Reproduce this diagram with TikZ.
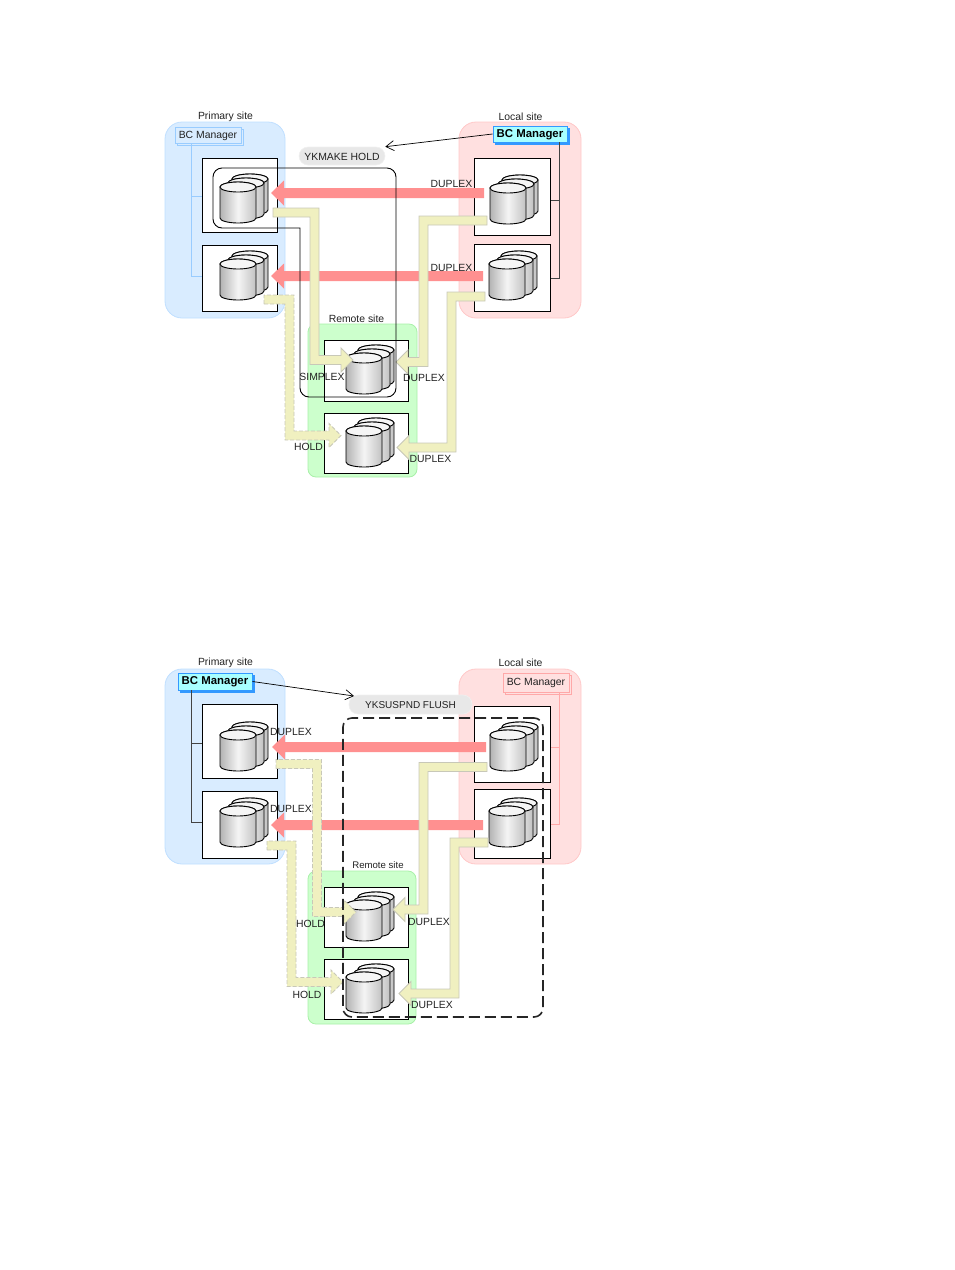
\documentclass[tikz,border=0pt]{standalone}
\usepackage{fontspec}
\setmainfont{Liberation Sans}
\usetikzlibrary{arrows.meta,calc}
\definecolor{siteblue}{HTML}{D9ECFF}
\definecolor{siteblueline}{HTML}{BFDFFF}
\definecolor{sitered}{HTML}{FFE0E0}
\definecolor{siteredline}{HTML}{FFC8C8}
\definecolor{sitegreen}{HTML}{CCFFCC}
\definecolor{sitegreenline}{HTML}{A8F0A8}
\definecolor{flowred}{HTML}{FF9090}
\definecolor{pipefill}{HTML}{F0F0C0}
\definecolor{pipeline}{HTML}{C8C8B8}
\definecolor{mgrcyan}{HTML}{A8FFFF}
\definecolor{mgrblue}{HTML}{3399FF}
\definecolor{linkblue}{HTML}{99CCFF}
\definecolor{linkpink}{HTML}{FFA8A8}
\definecolor{inkgray}{HTML}{222222}
\tikzset{
  sitebase/.style={line width=.8pt,rounded corners=17pt},
  primarysite/.style={sitebase,draw=siteblueline,fill=siteblue},
  localsite/.style={sitebase,draw=siteredline,fill=sitered},
  remotesite/.style={line width=.8pt,rounded corners=8pt,draw=sitegreenline,fill=sitegreen},
  storagebox/.style={draw=black,fill=white,line width=1pt},
  lbl/.style={font=\fontsize{10.4}{12}\selectfont,text=inkgray,inner sep=0pt},
  sitelbl/.style={lbl},
  pill/.style={fill=black!9,draw=black!6,line width=.6pt,rounded corners=9pt},
  mgridleblue/.style={draw=linkblue,fill=siteblue,line width=.95pt},
  mgridlepink/.style={draw=linkpink,fill=sitered,line width=.95pt},
  mgractive/.style={draw=mgrblue,fill=mgrcyan,line width=1pt},
  cmdarrow/.style={draw=black,line width=.7pt,-{Straight Barb[length=8pt,width=10pt]}},
  flowarrow/.style={fill=flowred,draw=none},
  pipesolid/.style={fill=pipefill,draw=pipeline,line width=.9pt},
  pipedashed/.style={fill=pipefill,draw=pipeline,line width=.9pt,dash pattern=on 4pt off 2pt},
  treeblue/.style={draw=linkblue,line width=1pt},
  treepink/.style={draw=linkpink,line width=1pt},
  treedark/.style={draw=inkgray!85,line width=1pt},
  groupline/.style={draw=black,line width=.9pt,rounded corners=9pt},
  groupdash/.style={draw=black!85,line width=1.6pt,rounded corners=9pt,dash pattern=on 11pt off 5pt},
  diskshade/.style={left color=black!30,right color=black!24,middle color=black!4,draw=black,line width=.9pt},
}
% rectangular named node given by its corners
\newcommand\areanode[6]{%
  \pgfmathsetmacro\cw{#5-#3}\pgfmathsetmacro\ch{#6-#4}%
  \node[#1,minimum width=\cw pt,minimum height=\ch pt,inner sep=0pt] (#2) at ({(#3+#5)/2},{(#4+#6)/2}) {};}
% one cylinder: left edge, top edge
\newcommand\onedisk[2]{%
  \path[diskshade] (#1,{#2+5}) -- (#1,{#2+36}) arc[start angle=180,end angle=360,x radius=18pt,y radius=5pt]
     -- ({#1+36},{#2+5}) arc[start angle=0,end angle=180,x radius=18pt,y radius=5pt] -- cycle;
  \draw[fill=black!4,draw=black,line width=.9pt] ({#1+18},{#2+5}) ellipse[x radius=18pt,y radius=5pt];}
% stack of three cylinders
\newcommand\diskstack[2]{%
  \onedisk{#1+12}{#2-8}\onedisk{#1+8}{#2-4}\onedisk{#1}{#2}}
% left-pointing block arrow: tail x, tip x, y
\newcommand\flow[3]{%
  \fill[flowarrow] (#1,{#3-5}) -- ({#2+13},{#3-5}) -- ({#2+13},{#3-12.5}) -- (#2,#3)
     -- ({#2+13},{#3+12.5}) -- ({#2+13},{#3+5}) -- (#1,{#3+5}) -- cycle;}
% elbowed pipe: style, x0, y0, xm, y1, xtip
\newcommand\pipe[6]{%
  \pgfmathsetmacro\sa{ifthenelse(#4>#2,1,-1)}%
  \pgfmathsetmacro\sv{ifthenelse(#5>#3,1,-1)}%
  \pgfmathsetmacro\sb{ifthenelse(#6>#4,1,-1)}%
  \pgfmathsetmacro\base{#6-\sb*12}%
  \def\hw{4.5}\def\hh{12}%
  \path[#1] (#2,{#3+\sa*\hw})
    -- ({#4-\sv*\hw},{#3+\sa*\hw})
    -- ({#4-\sv*\hw},{#5+\sb*\hw})
    -- (\base,{#5+\sb*\hw})
    -- (\base,{#5+\sb*\hh})
    -- (#6,#5)
    -- (\base,{#5-\sb*\hh})
    -- (\base,{#5-\sb*\hw})
    -- ({#4+\sv*\hw},{#5-\sb*\hw})
    -- ({#4+\sv*\hw},{#3-\sa*\hw})
    -- (#2,{#3-\sa*\hw}) -- cycle;}
\begin{document}
\begin{tikzpicture}[x=1pt,y=-1pt]
\useasboundingbox (0,0) rectangle (954,1270);

%% ---------- upper configuration ----------
\areanode{primarysite}{sP}{165}{122}{285}{318}
\areanode{localsite}{sL}{459}{122}{581}{318}
\areanode{remotesite}{sR}{308}{324}{417}{477}
\node[sitelbl] (tP) at (225.5,116.8) {Primary site};
\node[sitelbl] (tL) at (520.5,116.8) {Local site};
\node[sitelbl] (tR) at (356.5,318.8) {Remote site};

% storage management hosts
\areanode{draw=linkblue,fill=siteblue,line width=.95pt}{bPs}{177}{129}{243}{145}
\areanode{mgridleblue}{bP}{175}{127}{241}{143}
\node[font=\fontsize{10.4}{12}\selectfont,text=inkgray,inner sep=0pt] (bPt) at ($(bP.center)+(0,.7)$) {BC Manager};
\areanode{draw=mgrblue,fill=mgrblue}{bLs}{495}{128}{569}{144}
\areanode{mgractive}{bL}{493}{126}{567}{142}
\node[font=\fontsize{11.4}{12}\selectfont\bfseries,inner sep=0pt] (bLt) at ($(bL.center)+(0,.7)$) {BC Manager};

% host-to-storage links
\coordinate (a1) at (191,143); \coordinate (a2) at (191,196); \coordinate (a3) at (191,276);
\coordinate (a4) at (202,196); \coordinate (a5) at (202,276);
\draw[treeblue] (a1) -- (a3) -- (a5) (a2) -- (a4);
\coordinate (c1) at (559,142); \coordinate (c2) at (559,200); \coordinate (c3) at (559,278);
\coordinate (c4) at (550,200); \coordinate (c5) at (550,278);
\draw[treedark] (c1) -- (c3) -- (c5) (c2) -- (c4);

\areanode{storagebox}{nP1}{202}{158}{277}{232}
\areanode{storagebox}{nP2}{202}{245}{277}{311}
\areanode{storagebox}{nL1}{474}{158}{550}{235}
\areanode{storagebox}{nL2}{474}{244}{550}{311}
\areanode{storagebox}{nR1}{324}{340}{408}{401}
\areanode{storagebox}{nR2}{324}{413}{408}{473}
\diskstack{220}{182}\diskstack{220}{259}
\diskstack{490}{183}\diskstack{489}{259}
\diskstack{346}{353}\diskstack{346}{426}

\flow{484}{271}{193}
\flow{483}{271}{276}

\pipe{pipesolid}{273}{212.5}{314.5}{360}{353}
\pipe{pipesolid}{487}{220.5}{423.5}{362}{396}
\pipe{pipesolid}{485}{296.5}{451.5}{447.5}{397}
\pipe{pipedashed}{264}{299.5}{289.5}{435.5}{341}

% copy group outline: the inner corner at g5 stays square
\coordinate (g1) at (213,168); \coordinate (g2) at (396,168); \coordinate (g3) at (396,397);
\coordinate (g4) at (300,397); \coordinate (g5) at (300,228); \coordinate (g6) at (213,228);
\draw[groupline] (g1) -- (g2) -- (g3) -- (g4) [sharp corners] -- (g5) [rounded corners=9pt] -- (g6) -- cycle;

% command balloon
\areanode{pill}{pA}{299}{147}{385}{165}
\node[font=\fontsize{10.4}{12}\selectfont,text=inkgray,inner sep=0pt] (pAt) at ($(pA.center)+(0,.7)$) {YKMAKE HOLD};
\draw[cmdarrow] (bL.west) -- (pA.north east);

\node[lbl] (d1) at (451.5,183.8) {DUPLEX};
\node[lbl] (d2) at (451.5,267.8) {DUPLEX};
\node[lbl] (d3) at (322,377.3) {SIMPLEX};
\node[lbl] (d4) at (424,377.8) {DUPLEX};
\node[lbl] (d5) at (308.5,446.8) {HOLD};
\node[lbl] (d6) at (430.5,458.8) {DUPLEX};

%% ---------- lower configuration ----------
\areanode{primarysite}{uP}{165}{669}{285}{864}
\areanode{localsite}{uL}{459}{669}{581}{864}
\areanode{remotesite}{uR}{308}{871}{416}{1024}
\node[sitelbl] (vP) at (225.5,662.8) {Primary site};
\node[sitelbl] (vL) at (520.5,662.8) {Local site};
\node[lbl,font=\fontsize{9.6}{12}\selectfont] (vR) at (378,865.3) {Remote site};

\areanode{draw=mgrblue,fill=mgrblue}{mPs}{180}{675}{254}{692}
\areanode{mgractive}{mP}{178}{673}{252}{690}
\node[font=\fontsize{11.4}{12}\selectfont\bfseries,inner sep=0pt] (mPt) at ($(mP.center)+(0,.7)$) {BC Manager};
\areanode{draw=linkpink,fill=sitered,line width=.95pt}{mLs}{505}{675}{571}{694}
\areanode{mgridlepink}{mL}{503}{673}{569}{692}
\node[font=\fontsize{10.4}{12}\selectfont,text=inkgray,inner sep=0pt] (mLt) at ($(mL.center)+(0,.2)$) {BC Manager};

\coordinate (e1) at (191,690); \coordinate (e2) at (191,743); \coordinate (e3) at (191,822);
\coordinate (e4) at (202,743); \coordinate (e5) at (202,822);
\draw[treedark] (e1) -- (e3) -- (e5) (e2) -- (e4);
\coordinate (f1) at (559,692); \coordinate (f2) at (559,747); \coordinate (f3) at (559,824);
\coordinate (f4) at (550,747); \coordinate (f5) at (550,824);
\draw[treepink] (f1) -- (f3) -- (f5) (f2) -- (f4);

\areanode{storagebox}{kP1}{202}{704}{277}{778}
\areanode{storagebox}{kP2}{202}{791}{277}{858}
\areanode{storagebox}{kL1}{474}{706}{550}{782}
\areanode{storagebox}{kL2}{474}{789}{550}{858}
\areanode{storagebox}{kR1}{324}{887}{408}{947}
\areanode{storagebox}{kR2}{324}{959}{408}{1019}
\diskstack{220}{730}\diskstack{220}{806}
\diskstack{490}{730}\diskstack{489}{806}
\diskstack{346}{900}\diskstack{346}{972}

\flow{486}{272}{747}
\flow{483}{271}{825}

\pipe{pipedashed}{276}{764}{317}{912}{356}
\pipe{pipedashed}{267}{845.5}{291.5}{982}{343}
\pipe{pipesolid}{487}{767}{423.5}{909.5}{393}
\pipe{pipesolid}{488}{842.5}{454.5}{993.5}{399}

% suspended group outline
\areanode{groupdash}{gD}{343}{718}{543}{1017}

\areanode{pill}{pB}{349}{695}{472}{714}
\node[font=\fontsize{10}{12}\selectfont,text=inkgray,inner sep=0pt] (pBt) at ($(pB.center)+(0,.7)$) {YKSUSPND FLUSH};
\coordinate (pBin) at (354,696);
\draw[cmdarrow] (mP.east) -- (pBin);

\node[lbl] (h1) at (291,731.8) {DUPLEX};
\node[lbl] (h2) at (291,808.8) {DUPLEX};
\node[lbl] (h3) at (310.5,923.8) {HOLD};
\node[lbl] (h4) at (429,921.8) {DUPLEX};
\node[lbl] (h5) at (307,994.8) {HOLD};
\node[lbl] (h6) at (432,1005.3) {DUPLEX};
\end{tikzpicture}
\end{document}
